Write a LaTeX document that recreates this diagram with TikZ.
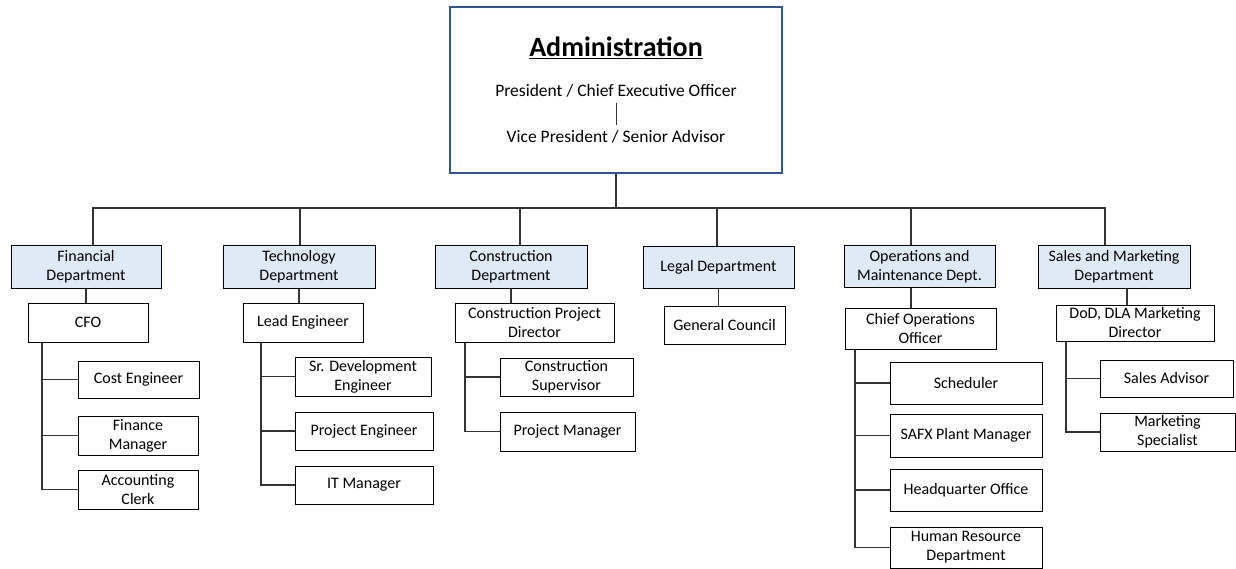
\documentclass[tikz,border=0pt]{standalone}
\usepackage{fontspec}
\setmainfont{Carlito}
\definecolor{deptfill}{HTML}{DEEBF7}
\definecolor{adminblue}{HTML}{2F5597}
\definecolor{linegray}{HTML}{333333}
\begin{document}
\begin{tikzpicture}[x=1pt,y=-1pt,
  box/.style={draw=black, line width=1pt, rectangle, align=center, inner sep=0pt,
    font=\fontsize{16}{19}\selectfont},
  dept/.style={box, fill=deptfill},
  txt/.style={inner sep=0pt, align=center},
  conn/.style={draw=linegray, line width=1.1pt}]
\useasboundingbox (0,0) rectangle (1236,569);

% Administration
\node[draw=adminblue, line width=2.6pt, minimum width=332, minimum height=166, inner sep=0pt] (admin) at (616,90) {};
\node[txt] (title) at (616,48) {\fontsize{28}{32}\selectfont\bfseries\underline{Administration}};
\node[txt] (pres) at (616,91) {\fontsize{17.5}{20}\selectfont President / Chief Executive Officer};
\node[txt] (vp) at (616,137) {\fontsize{17.5}{20}\selectfont Vice President / Senior Advisor};
\draw[conn, line width=0.8pt] ([yshift=-5pt]pres.south) -- ([yshift=5pt]vp.north);

% Departments
\node[dept, minimum width=150, minimum height=42] (fin) at (86,267) {Financial\\Department};
\node[dept, minimum width=152, minimum height=42] (tech) at (299,267) {Technology\\Department};
\node[dept, minimum width=152, minimum height=42] (cons) at (511,267) {Construction\\Department};
\node[dept, minimum width=151, minimum height=41] (legal) at (718.5,267.5) {Legal Department};
\node[dept, minimum width=151, minimum height=41] (ops) at (919.5,266.5) {Operations and\\Maintenance Dept.};
\node[dept, minimum width=152, minimum height=42] (sales) at (1114,267) {Sales and Marketing\\Department};

% Level 2
\node[box, minimum width=120, minimum height=39] (cfo) at (88,322.5) {CFO};
\node[box, minimum width=120, minimum height=39] (lead) at (303,322.5) {Lead Engineer};
\node[box, minimum width=159, minimum height=39] (cpd) at (534.5,322.5) {Construction Project\\Director};
\node[box, minimum width=121, minimum height=38] (gc) at (724.5,325) {General Council};
\node[box, minimum width=151, minimum height=41] (coo) at (920.5,328.5) {Chief Operations\\Officer};
\node[box, minimum width=158, minimum height=36] (dod) at (1135,323) {DoD, DLA Marketing\\Director};

% Level 3 - Financial
\node[box, minimum width=121, minimum height=37] (cost) at (138.5,379.5) {Cost Engineer};
\node[box, minimum width=120, minimum height=39] (finm) at (138,435.5) {Finance\\Manager};
\node[box, minimum width=120, minimum height=39] (acct) at (138,489.5) {Accounting\\Clerk};
% Technology
\node[box, minimum width=136, minimum height=39] (srdev) at (363,376.5) {Sr. Development\\Engineer};
\node[box, minimum width=138, minimum height=38] (proje) at (364,431) {Project Engineer};
\node[box, minimum width=138, minimum height=38] (itm) at (364,485) {IT Manager};
% Construction
\node[box, minimum width=133, minimum height=38] (csup) at (566.5,377) {Construction\\Supervisor};
\node[box, minimum width=135, minimum height=39] (pm) at (567.5,431.5) {Project Manager};
% Operations
\node[box, minimum width=152, minimum height=42] (sched) at (966,383) {Scheduler};
\node[box, minimum width=152, minimum height=43] (safx) at (966,435.5) {SAFX Plant Manager};
\node[box, minimum width=152, minimum height=42] (hq) at (966,490) {Headquarter Office};
\node[box, minimum width=152, minimum height=41] (hr) at (966,547.5) {Human Resource\\Department};
% Sales
\node[box, minimum width=133, minimum height=37] (sadv) at (1166.5,378.5) {Sales Advisor};
\node[box, minimum width=135, minimum height=38] (mkt) at (1167.5,432) {Marketing\\Specialist};

% Top bar
\coordinate (bar) at (616,208);
\coordinate (finx) at (93,0);
\coordinate (techx) at (300,0);
\coordinate (consx) at (520,0);
\coordinate (legalx) at (717,0);
\coordinate (opsx) at (911,0);
\coordinate (salesx) at (1105,0);
\coordinate (dodx) at (1127,0);
\draw[conn] (admin.south) -- (bar);
\draw[conn] (finx |- fin.north) |- (bar);
\draw[conn] (techx |- tech.north) |- (bar);
\draw[conn] (consx |- cons.north) |- (bar);
\draw[conn] (legalx |- legal.north) |- (bar);
\draw[conn] (opsx |- ops.north) |- (bar);
\draw[conn] (salesx |- sales.north) |- (bar);

% Dept to level 2
\draw[conn] (fin.south) -- (fin.south |- cfo.north);
\draw[conn] (tech.south) -- (tech.south |- lead.north);
\draw[conn] (cons.south) -- (cons.south |- cpd.north);
\draw[conn] (legal.south) -- (legal.south |- gc.north);
\draw[conn] (opsx |- ops.south) -- (opsx |- coo.north);
\draw[conn] (dodx |- sales.south) -- (dodx |- dod.north);

% Trunks
\coordinate (tf) at (42,0);
\coordinate (tt) at (261,0);
\coordinate (tc) at (465,0);
\coordinate (to) at (855,0);
\coordinate (ts) at (1066,0);

\draw[conn] (tf |- cfo.south) |- (acct.west);
\draw[conn] (tf |- cost.west) -- (cost.west);
\draw[conn] (tf |- finm.west) -- (finm.west);

\draw[conn] (tt |- lead.south) |- (itm.west);
\draw[conn] (tt |- srdev.west) -- (srdev.west);
\draw[conn] (tt |- proje.west) -- (proje.west);

\draw[conn] (tc |- cpd.south) |- (pm.west);
\draw[conn] (tc |- csup.west) -- (csup.west);

\draw[conn] (to |- coo.south) |- (hr.west);
\draw[conn] (to |- sched.west) -- (sched.west);
\draw[conn] (to |- safx.west) -- (safx.west);
\draw[conn] (to |- hq.west) -- (hq.west);

\draw[conn] (ts |- dod.south) |- (mkt.west);
\draw[conn] (ts |- sadv.west) -- (sadv.west);
\end{tikzpicture}
\end{document}
